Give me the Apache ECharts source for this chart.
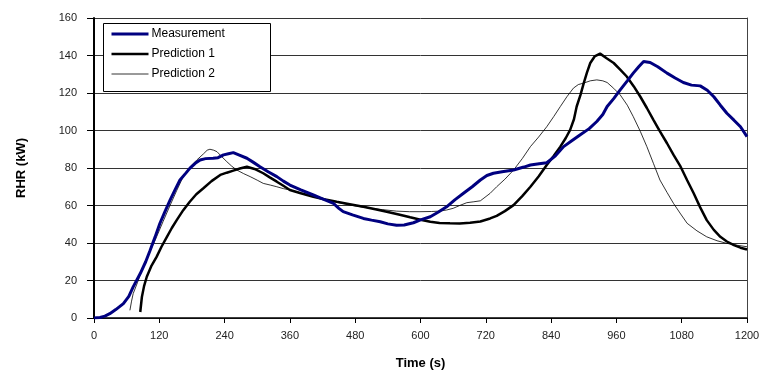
<!DOCTYPE html>
<html>
<head>
<meta charset="utf-8">
<script src="https://cdn.jsdelivr.net/npm/echarts@6/dist/echarts.min.js"></script>
<style>html,body{margin:0;padding:0;background:#fff}#c{width:763px;height:376px}</style>
</head>
<body>
<div id="c"></div>
<script>
var seriesNames = ['Measurement', 'Prediction 1', 'Prediction 2'];
var xTicks = [0, 120, 240, 360, 480, 600, 720, 840, 960, 1080, 1200];
var yTicks = [0, 20, 40, 60, 80, 100, 120, 140, 160];

var measurement = [[0,0],[11,0.3],[20,1],[29,2.3],[40,4.5],[54,7.7],[64,11.5],[72,16.6],[85,23.7],[95,30],[103,36],[112,43],[121,50.4],[130,56.5],[140,63],[150,69],[158,73.6],[168,77],[176,79.8],[186,82.5],[195,84.3],[205,85],[219,85.2],[228,85.5],[238,87],[247,87.6],[256,88.2],[266,87],[281,85.2],[293,83],[305,80.7],[320,78],[336,75.4],[348,73],[360,70.9],[380,68.3],[403,65.6],[420,63.5],[440,61.1],[450,58.5],[458,56.7],[475,55],[495,53.1],[510,52.2],[526,51.3],[540,50.2],[556,49.5],[570,49.6],[587,50.8],[600,52.3],[618,54],[633,56.5],[648,59.3],[663,63],[679,66.5],[695,70],[710,73.6],[722,76],[734,77.2],[750,78],[771,78.9],[790,80.5],[802,81.6],[818,82.3],[832,82.8],[848,86.5],[863,91.4],[878,94.5],[893,97.6],[910,101],[924,104.8],[935,108.5],[943,112.8],[955,117],[967,121.7],[980,126.5],[991,130.6],[1001,134],[1010,136.8],[1022,136.3],[1036,134],[1053,130.6],[1068,128],[1083,125.6],[1098,124.2],[1114,123.8],[1127,121.5],[1139,118],[1151,113.5],[1163,109.2],[1176,105.5],[1188,102],[1200,96.7]];

var prediction1 = [[85,3.2],[88,11.2],[92,17],[97,22],[105,27.5],[115,32.6],[124,38],[134,43.3],[143,48],[152,52.2],[164,57.5],[176,62],[188,66],[201,69.2],[216,73],[232,76.3],[244,77.5],[256,78.6],[268,79.7],[281,80.7],[295,79.5],[311,77.2],[323,75],[336,72.7],[348,70.5],[360,68.3],[380,66.5],[403,64.7],[425,63.2],[446,62],[470,60.7],[495,59.3],[517,58],[538,56.7],[560,55.2],[581,53.7],[600,52.4],[618,51.3],[635,50.7],[654,50.5],[672,50.4],[691,50.8],[710,51.5],[728,53.1],[740,54.5],[755,57],[771,60.2],[787,65],[802,70],[817,75.5],[832,81.6],[845,86.5],[857,91.4],[867,96],[875,100.3],[882,106],[887,112.8],[894,119],[900,125.3],[906,131],[912,136],[920,139.5],[930,141],[942,138.5],[955,136],[967,132.5],[979,128.8],[992,123.5],[1004,118],[1016,112],[1028,105.7],[1040,99.5],[1053,93.2],[1065,87],[1078,80.7],[1090,73.5],[1102,66.5],[1114,59],[1126,52.2],[1139,47],[1151,43.3],[1163,40.8],[1176,38.9],[1188,37.5],[1200,36.5]];

var prediction2 = [[66,4.1],[69,9],[72,13],[80,19],[90,27.3],[102,35],[115,43.3],[127,51.5],[140,60.2],[152,68],[164,75.4],[176,80.5],[189,84.3],[201,87.5],[208,89.5],[213,90],[220,89.5],[226,88.7],[235,86],[244,83.4],[253,81],[262,79],[275,77],[287,75.4],[300,73.5],[311,71.8],[324,70.9],[336,70],[348,69],[360,68.3],[373,67.3],[390,66],[410,64.5],[430,63],[450,61.5],[470,60.3],[490,59.3],[510,58.5],[530,57.8],[556,57],[580,56.7],[599,56.7],[620,56.8],[635,57],[648,57.6],[660,58.5],[672,60],[685,61.5],[698,62],[710,62.5],[728,66.5],[740,70],[755,74],[771,78.9],[787,85],[802,91.4],[817,96.5],[832,102],[845,107.5],[857,112.8],[869,118],[881,122.6],[890,124.5],[900,125.3],[912,126.5],[924,127],[935,126.5],[943,125.6],[955,122.5],[967,119],[980,113.5],[991,107.4],[1004,99.5],[1016,91.4],[1028,82.5],[1040,73.6],[1053,67],[1065,61.1],[1078,55.5],[1090,50.5],[1108,46.5],[1126,43.3],[1145,41.2],[1163,39.8],[1182,38.8],[1200,38]];

var chart = echarts.init(document.getElementById('c'), null, {renderer: 'canvas'});
var font = 'Arial, "Liberation Sans", sans-serif';
var styles = [
  {color: '#000080', width: 3},
  {color: '#000000', width: 2.5},
  {color: '#000000', width: 0.8}
];
var datasets = [measurement, prediction1, prediction2];
chart.setOption({
  animation: false,
  backgroundColor: '#fff',
  grid: {left: 94, right: 16, top: 18, bottom: 58},
  graphic: [{
    type: 'rect', left: 103, top: 23, z: 3,
    shape: {width: 167, height: 68},
    style: {fill: '#fff', stroke: '#000', lineWidth: 1}
  }],
  legend: {
    orient: 'vertical', left: 104, top: 26, z: 10,
    data: seriesNames.map(function (n, i) {
      return {name: n, lineStyle: {color: styles[i].color, width: styles[i].width}};
    }),
    itemWidth: 37, itemHeight: 14, itemGap: 8, padding: [2, 6],
    itemStyle: {opacity: 0},
    textStyle: {fontFamily: font, fontSize: 12, color: '#000', padding: [0, 0, 0, -2]}
  },
  xAxis: {
    type: 'value', min: xTicks[0], max: xTicks[xTicks.length - 1], interval: 120,
    name: 'Time (s)', nameLocation: 'middle', nameGap: 39,
    nameTextStyle: {fontFamily: font, fontSize: 13, fontWeight: 'bold', color: '#000'},
    axisLine: {show: true, onZero: false, lineStyle: {color: '#000', width: 1.5}},
    axisTick: {show: true, inside: false, length: 5, lineStyle: {color: '#000'}},
    axisLabel: {fontFamily: font, fontSize: 11, color: '#222', margin: 12,
      formatter: function (v) { return xTicks.indexOf(v) >= 0 ? String(v) : ''; }},
    splitLine: {show: false}
  },
  yAxis: [{
    type: 'value', min: yTicks[0], max: yTicks[yTicks.length - 1], interval: 20,
    name: 'RHR (kW)', nameLocation: 'middle', nameGap: 66, nameRotate: 90,
    nameTextStyle: {fontFamily: font, fontSize: 13, fontWeight: 'bold', color: '#000'},
    axisLine: {show: true, lineStyle: {color: '#000', width: 2}},
    axisTick: {show: true, inside: false, length: 7, lineStyle: {color: '#000'}},
    axisLabel: {fontFamily: font, fontSize: 11, color: '#222', margin: 17},
    splitLine: {show: true, lineStyle: {color: '#333', width: 1}}
  }, {
    type: 'value', position: 'right', min: 0, max: 160, interval: 20,
    axisLine: {show: true, lineStyle: {color: '#444', width: 1}},
    axisTick: {show: false}, axisLabel: {show: false}, splitLine: {show: false}
  }],
  series: seriesNames.map(function (n, i) {
    return {
      name: n, type: 'line', data: datasets[i], showSymbol: false, symbol: 'none',
      lineStyle: {color: styles[i].color, width: styles[i].width},
      itemStyle: {color: styles[i].color}, z: 4 - i
    };
  })
});
</script>
</body>
</html>
